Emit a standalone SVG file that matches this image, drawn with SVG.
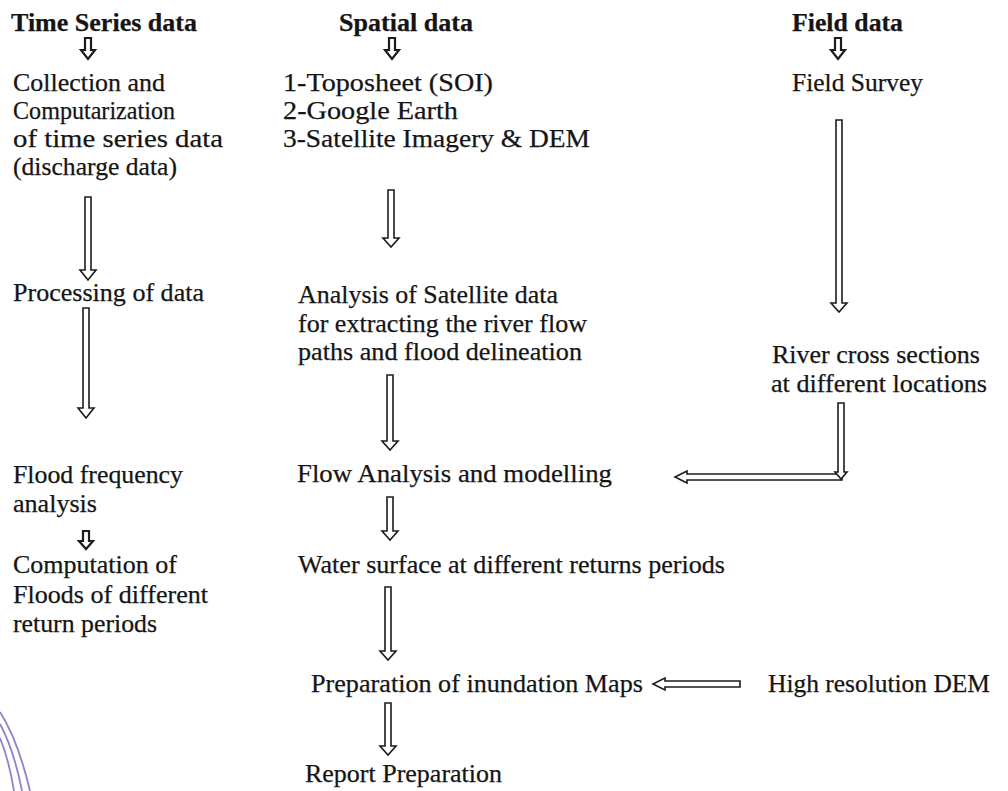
<svg xmlns="http://www.w3.org/2000/svg" width="1008" height="791" viewBox="0 0 1008 791">
<style>
text{font-family:"Liberation Serif","Times New Roman",serif;fill:#151515;font-size:26px;stroke:#151515;stroke-width:0.25}
.h{font-weight:bold;font-size:26px}
.a{fill:#fff;stroke:#1c1c1c;stroke-width:1.6;stroke-linejoin:miter}
.s{fill:#fff;stroke:#1c1c1c;stroke-width:2.2}
.stamp{fill:none;stroke:#5b4fb3;stroke-width:1.8;opacity:.7}
</style>
<rect width="1008" height="791" fill="#fff"/>
<g id="n-timeseries"><text class="h" x="11" y="31" textLength="186" lengthAdjust="spacingAndGlyphs">Time Series data</text></g>
<g id="n-spatial"><text class="h" x="339" y="31" textLength="134" lengthAdjust="spacingAndGlyphs">Spatial data</text></g>
<g id="n-field"><text class="h" x="792" y="31" textLength="111" lengthAdjust="spacingAndGlyphs">Field data</text></g>
<g id="n-collection">
<text x="13" y="91" textLength="152" lengthAdjust="spacingAndGlyphs">Collection and</text>
<text x="13" y="119" textLength="162" lengthAdjust="spacingAndGlyphs">Computarization</text>
<text x="13" y="147" textLength="210" lengthAdjust="spacingAndGlyphs">of time series data</text>
<text x="13" y="175" textLength="164" lengthAdjust="spacingAndGlyphs">(discharge data)</text>
</g>
<g id="n-sources">
<text x="283" y="91" textLength="210" lengthAdjust="spacingAndGlyphs">1-Toposheet (SOI)</text>
<text x="283" y="119" textLength="175" lengthAdjust="spacingAndGlyphs">2-Google Earth</text>
<text x="283" y="147" textLength="307" lengthAdjust="spacingAndGlyphs">3-Satellite Imagery &amp; DEM</text>
</g>
<g id="n-survey"><text x="792" y="91" textLength="131" lengthAdjust="spacingAndGlyphs">Field Survey</text></g>
<g id="n-processing"><text x="13" y="301" textLength="191" lengthAdjust="spacingAndGlyphs">Processing of data</text></g>
<g id="n-analysis">
<text x="298" y="303" textLength="260" lengthAdjust="spacingAndGlyphs">Analysis of Satellite data</text>
<text x="298" y="332" textLength="289" lengthAdjust="spacingAndGlyphs">for extracting the river flow</text>
<text x="298" y="360" textLength="284" lengthAdjust="spacingAndGlyphs">paths and flood delineation</text>
</g>
<g id="n-crosssections">
<text x="772" y="363" textLength="208" lengthAdjust="spacingAndGlyphs">River cross sections</text>
<text x="771" y="392" textLength="216" lengthAdjust="spacingAndGlyphs">at different locations</text>
</g>
<g id="n-frequency">
<text x="13" y="483" textLength="170" lengthAdjust="spacingAndGlyphs">Flood frequency</text>
<text x="13" y="512" textLength="84" lengthAdjust="spacingAndGlyphs">analysis</text>
</g>
<g id="n-flow"><text x="297" y="482" textLength="315" lengthAdjust="spacingAndGlyphs">Flow Analysis and  modelling</text></g>
<g id="n-computation">
<text x="13" y="573" textLength="164" lengthAdjust="spacingAndGlyphs">Computation of</text>
<text x="13" y="603" textLength="195" lengthAdjust="spacingAndGlyphs">Floods of different</text>
<text x="13" y="632" textLength="144" lengthAdjust="spacingAndGlyphs">return periods</text>
</g>
<g id="n-water"><text x="298" y="573" textLength="427" lengthAdjust="spacingAndGlyphs">Water surface at different returns periods</text></g>
<g id="n-inundation"><text x="311" y="692" textLength="332" lengthAdjust="spacingAndGlyphs">Preparation of inundation Maps</text></g>
<g id="n-dem"><text x="768" y="692" textLength="222" lengthAdjust="spacingAndGlyphs">High resolution DEM</text></g>
<g id="n-report"><text x="305" y="782" textLength="197" lengthAdjust="spacingAndGlyphs">Report Preparation</text></g>
<g id="connectors">
<polygon class="s" points="85,38 91,38 91,50 95,50 88,59 81,50 85,50"/>
<polygon class="s" points="389,38 395,38 395,50 399,50 392,59 385,50 389,50"/>
<polygon class="s" points="835,38 841,38 841,50 845,50 838,59 831,50 835,50"/>
<polygon class="a" points="85,197 91,197 91,270 96,270 88,280 80,270 85,270"/>
<polygon class="a" points="83,308 89,308 89,408 94,408 86,418 78,408 83,408"/>
<polygon class="s" points="83,531 89,531 89,541 93,541 86,549 79,541 83,541"/>
<polygon class="a" points="388,190 394,190 394,238 399,238 391,247 383,238 388,238"/>
<polygon class="a" points="387,375 393,375 393,441 398,441 390,450 382,441 387,441"/>
<polygon class="a" points="387,497 393,497 393,531 398,531 390,540 382,531 387,531"/>
<polygon class="a" points="385,587 391,587 391,651 396,651 388,660 380,651 385,651"/>
<polygon class="a" points="385,703 391,703 391,746 396,746 388,755 380,746 385,746"/>
<polygon class="a" points="836,120 842,120 842,303 847,303 839,312 831,303 836,303"/>
<polygon class="a" points="842,474 687,474 687,471 675,477 687,483 687,480 842,480"/>
<polygon class="a" points="838,403 844,403 844,472 847,472 841,479 835,472 838,472"/>
<polygon class="a" points="740,681 665,681 665,678 653,684 665,690 665,687 740,687"/>
</g>
<g id="stamp">
<path class="stamp" d="M0,712 Q18,740 30,791"/>
<path class="stamp" d="M0,724 Q14,750 22,791"/>
<path class="stamp" d="M0,738 Q9,760 14,791"/>
</g>
</svg>
